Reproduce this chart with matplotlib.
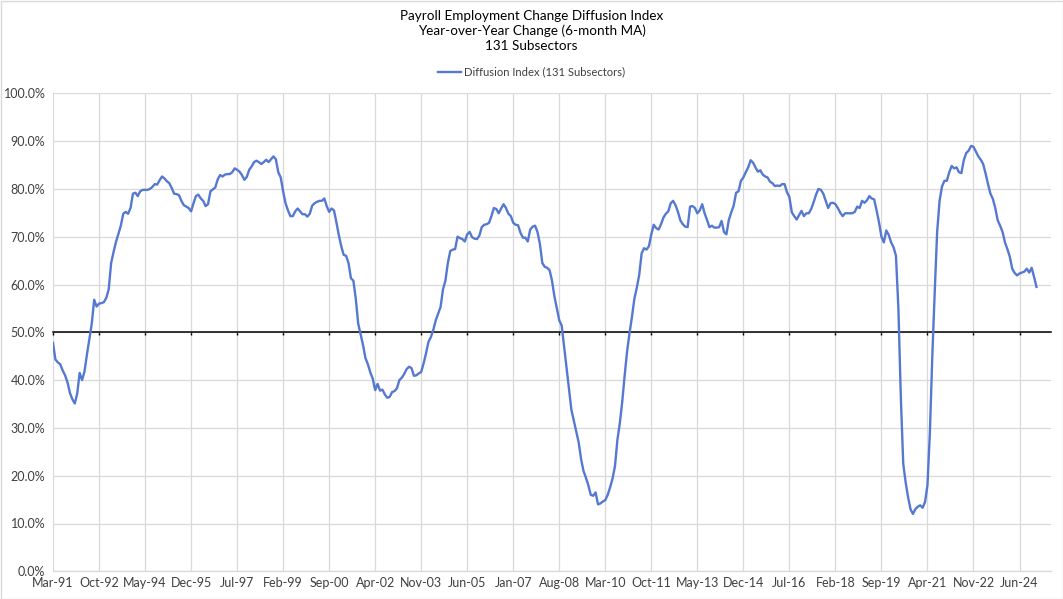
import matplotlib
matplotlib.use("Agg")
import matplotlib.pyplot as plt
import pandas as pd
from matplotlib.patches import Rectangle

plt.rcParams['font.family'] = ['Lato', 'DejaVu Sans']

title_lines = ["Payroll Employment Change Diffusion Index",
               "Year-over-Year Change (6-month MA)",
               "131 Subsectors"]
series_name = "Diffusion Index (131 Subsectors)"
start_month = "1991-03"
label_step = 19
n_slots = 413

values = [
    47.8, 44.3, 43.7, 43.3, 42.0, 41.0, 39.5, 37.3, 36.0, 35.1,
    37.2, 41.5, 40.0, 41.8, 45.3, 48.5, 51.8, 56.8, 55.4, 56.0,
    56.1, 56.3, 57.2, 59.0, 64.5, 66.8, 68.9, 70.6, 72.3, 74.8,
    75.2, 74.8, 76.0, 79.0, 79.2, 78.5, 79.5, 79.8, 79.8, 79.8,
    80.0, 80.4, 81.0, 80.9, 81.8, 82.6, 82.2, 81.6, 81.2, 80.2,
    79.0, 78.9, 78.7, 77.5, 76.6, 76.3, 76.0, 75.3, 77.0, 78.5,
    78.8, 78.0, 77.5, 76.4, 76.8, 79.5, 79.9, 80.3, 82.0, 82.9,
    82.6, 83.0, 83.1, 83.1, 83.5, 84.3, 84.0, 83.6, 82.9, 81.9,
    82.5, 84.0, 84.7, 85.6, 85.9, 85.6, 85.2, 85.6, 86.1, 85.6,
    86.2, 86.8, 86.2, 83.5, 82.4, 79.5, 77.0, 75.5, 74.3, 74.3,
    75.3, 75.9, 75.3, 74.7, 74.7, 74.2, 74.8, 76.5, 77.0, 77.3,
    77.5, 77.5, 78.0, 76.4, 75.2, 75.9, 75.5, 73.0, 70.3, 68.0,
    66.2, 66.0, 64.5, 61.3, 60.8, 57.0, 51.8, 49.5, 47.3, 44.6,
    43.3, 41.6, 40.3, 37.9, 39.2, 37.8, 38.0, 37.0, 36.3, 36.5,
    37.5, 37.7, 38.3, 40.0, 40.5, 41.3, 42.3, 42.8, 42.5, 40.9,
    41.0, 41.4, 41.7, 43.5, 45.6, 48.0, 49.0, 50.5, 52.5, 53.9,
    55.3, 59.0, 60.8, 64.5, 67.0, 67.3, 67.4, 70.0, 69.7, 69.5,
    69.0, 70.5, 71.0, 69.9, 69.6, 69.5, 70.2, 72.0, 72.5, 72.6,
    72.9, 74.3, 76.0, 75.8, 74.9, 75.9, 76.8, 76.0, 74.8, 74.3,
    72.9, 72.5, 72.4, 70.8, 69.8, 69.8, 69.0, 71.5, 72.1, 72.3,
    71.0, 68.5, 64.5, 63.7, 63.5, 63.0, 60.8, 57.5, 55.0, 52.5,
    51.4, 47.0, 42.6, 38.0, 33.8, 31.5, 29.3, 27.0, 23.5, 21.0,
    19.6, 18.0, 16.0, 15.8, 16.5, 14.0, 14.2, 14.6, 14.9, 16.0,
    17.6, 19.4, 22.0, 27.5, 31.0, 35.5, 41.0, 46.0, 49.8, 53.2,
    57.0, 59.3, 62.0, 66.5, 67.6, 67.3, 68.0, 70.5, 72.5, 71.8,
    71.5, 72.6, 74.0, 74.8, 75.3, 77.0, 77.5, 76.6, 75.2, 73.4,
    72.6, 72.1, 72.0, 76.3, 76.4, 76.0, 74.9, 75.5, 76.8, 74.9,
    73.5, 72.0, 72.3, 71.9, 71.9, 72.0, 73.3, 71.0, 70.5, 73.5,
    75.1, 76.5, 79.2, 79.5, 81.7, 82.4, 83.5, 84.5, 86.0, 85.5,
    84.5, 83.6, 83.9, 83.0, 82.6, 82.4, 81.5, 81.2, 80.6, 80.7,
    80.6, 81.0, 81.0, 79.3, 78.3, 75.1, 74.3, 73.6, 74.5, 75.4,
    74.3, 74.9, 74.9, 75.8, 77.2, 78.8, 80.0, 79.8, 79.0, 77.5,
    76.0, 77.0, 77.1, 76.8, 76.0, 75.0, 74.3, 74.9, 74.9, 74.9,
    74.9, 75.2, 76.3, 76.0, 77.5, 77.1, 77.6, 78.5, 78.0, 77.8,
    75.5, 73.0, 70.0, 68.8, 71.3, 70.4, 68.8, 67.8, 66.0, 55.0,
    36.5, 22.5, 18.6, 15.5, 13.0, 12.0, 13.0, 13.5, 13.8, 13.3,
    14.5, 18.0, 29.0, 45.0, 58.5, 71.0, 77.5, 80.5, 81.7, 81.7,
    83.5, 84.8, 84.3, 84.5, 83.5, 83.3, 86.0, 87.5, 88.0, 89.0,
    88.8, 87.8, 86.8, 86.1, 85.2, 83.2, 81.0, 79.0, 77.9, 76.0,
    73.4, 72.3, 71.0, 68.8, 67.4, 65.8, 63.3, 62.4, 61.9, 62.3,
    62.5, 62.7, 63.3, 62.5, 63.5, 61.6, 59.5,
]

dates = pd.date_range(start_month, periods=n_slots, freq="MS")
x = list(range(len(values)))
tick_pos = list(range(0, n_slots, label_step))
tick_lab = [dates[i].strftime("%b-%y") for i in tick_pos]

W, H = 1063, 599
fig = plt.figure(figsize=(W / 100, H / 100), dpi=100)
ax = fig.add_axes([53 / W, 1 - 571.3 / H, (1051 - 53) / W, (571.3 - 93.3) / H])

grid_c = "#D9D9D9"
line_c = "#5578D0"

ax.plot(x, values, color=line_c, lw=1.7, solid_joinstyle="round", zorder=3,
        label=series_name)

ax.set_xlim(0, n_slots - 1)
ax.set_ylim(0, 100)
ax.set_yticks(range(0, 101, 10))
ax.set_yticklabels([f"{v:.1f}%" for v in range(0, 101, 10)])
ax.set_xticks(tick_pos)
ax.grid(True, color=grid_c, lw=0.9, zorder=0)
ax.set_axisbelow(True)

for s in ("left", "right", "top"):
    ax.spines[s].set_visible(False)
ax.spines["bottom"].set_position(("data", 50))
ax.spines["bottom"].set_color("black")
ax.spines["bottom"].set_linewidth(1.1)
ax.spines["bottom"].set_zorder(2)
ax.tick_params(axis="x", direction="out", length=2.5, width=1, color="black",
               labelbottom=False)
ax.tick_params(axis="y", length=0, pad=5.5, labelsize=9, colors="#404040")

sec = ax.secondary_xaxis(0.0)
sec.set_xticks(tick_pos)
sec.set_xticklabels(tick_lab)
sec.tick_params(axis="x", length=0, pad=4, labelsize=9, colors="#404040")
sec.spines["bottom"].set_color(grid_c)
sec.spines["bottom"].set_linewidth(0.9)

ty = [16, 31, 46]
for t, yy in zip(title_lines, ty):
    fig.text(531.5 / W, 1 - yy / H, t, ha="center", va="center", fontsize=9.7,
             color="#000000")

leg = fig.legend(loc="center", bbox_to_anchor=(531.5 / W, 1 - 72 / H),
                 frameon=False, fontsize=8.1, handlelength=2.0,
                 handletextpad=0.3)
for txt in leg.get_texts():
    txt.set_color("#404040")

fig.patches.append(Rectangle((0.5 / W, 0.5 / H), 1 - 1 / W, 1 - 1 / H,
                             transform=fig.transFigure, fill=False,
                             edgecolor=grid_c, lw=1))

fig.savefig("out.png", dpi=100)
